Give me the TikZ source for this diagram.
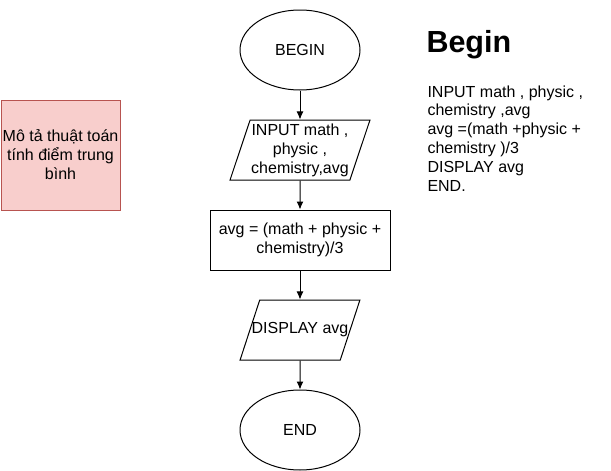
\documentclass[tikz,border=0pt]{standalone}
\usepackage{fontspec}
\setmainfont{Liberation Sans}
\usetikzlibrary{positioning,arrows.meta,shapes.geometric}
\definecolor{notefill}{HTML}{F8CECC}
\definecolor{noteline}{HTML}{B85450}

\begin{document}
\begin{tikzpicture}[x=1pt,y=-1pt,line width=1pt,
  >={Latex[length=8pt,width=7pt]},
  every node/.style={font=\fontsize{16}{19}\selectfont, align=center, inner sep=0pt},
  terminal/.style={draw, ellipse, minimum width=120pt, minimum height=80pt},
  io/.style={draw, trapezium, trapezium left angle=71.57, trapezium right angle=108.43,
    trapezium stretches=true, minimum height=60pt},
  process/.style={draw, rectangle, minimum width=180pt, minimum height=60pt}]
\useasboundingbox (0,0) rectangle (611,471);
\node[terminal] (begin) at (300,50) {BEGIN};
\node[io, minimum width=140pt, inner ysep=3pt] (input) at (300,150) {INPUT math ,\\ physic ,\\ chemistry,avg};
\node[process] (avg) at (300,240) {avg = (math + physic +\\ chemistry)/3};
\node[io, minimum width=120pt, inner ysep=22pt] (display) at (300,330) {\makebox[80pt]{DISPLAY avg}};
\node[terminal] (end) at (300,430) {END};
\node[draw=noteline, fill=notefill, minimum width=119pt, minimum height=110pt] (note) at (60.5,155)
  {Mô tả thuật toán\\ tính điểm trung\\ bình};
\node[anchor=base west, font=\fontsize{30.5}{36}\selectfont\bfseries] (title) at (426,52) {Begin};
\node[anchor=north west, align=left, font=\fontsize{16}{18.8}\selectfont] (pseudo) at (427,85)
  {INPUT math , physic ,\\ chemistry ,avg\\ avg =(math +physic +\\ chemistry )/3\\ DISPLAY avg\\ END.};
\draw[->] (begin) -- (input);
\draw[->] (input) -- (avg);
\draw[->] (avg) -- (display);
\draw[->] (display) -- (end);
\end{tikzpicture}
\end{document}
